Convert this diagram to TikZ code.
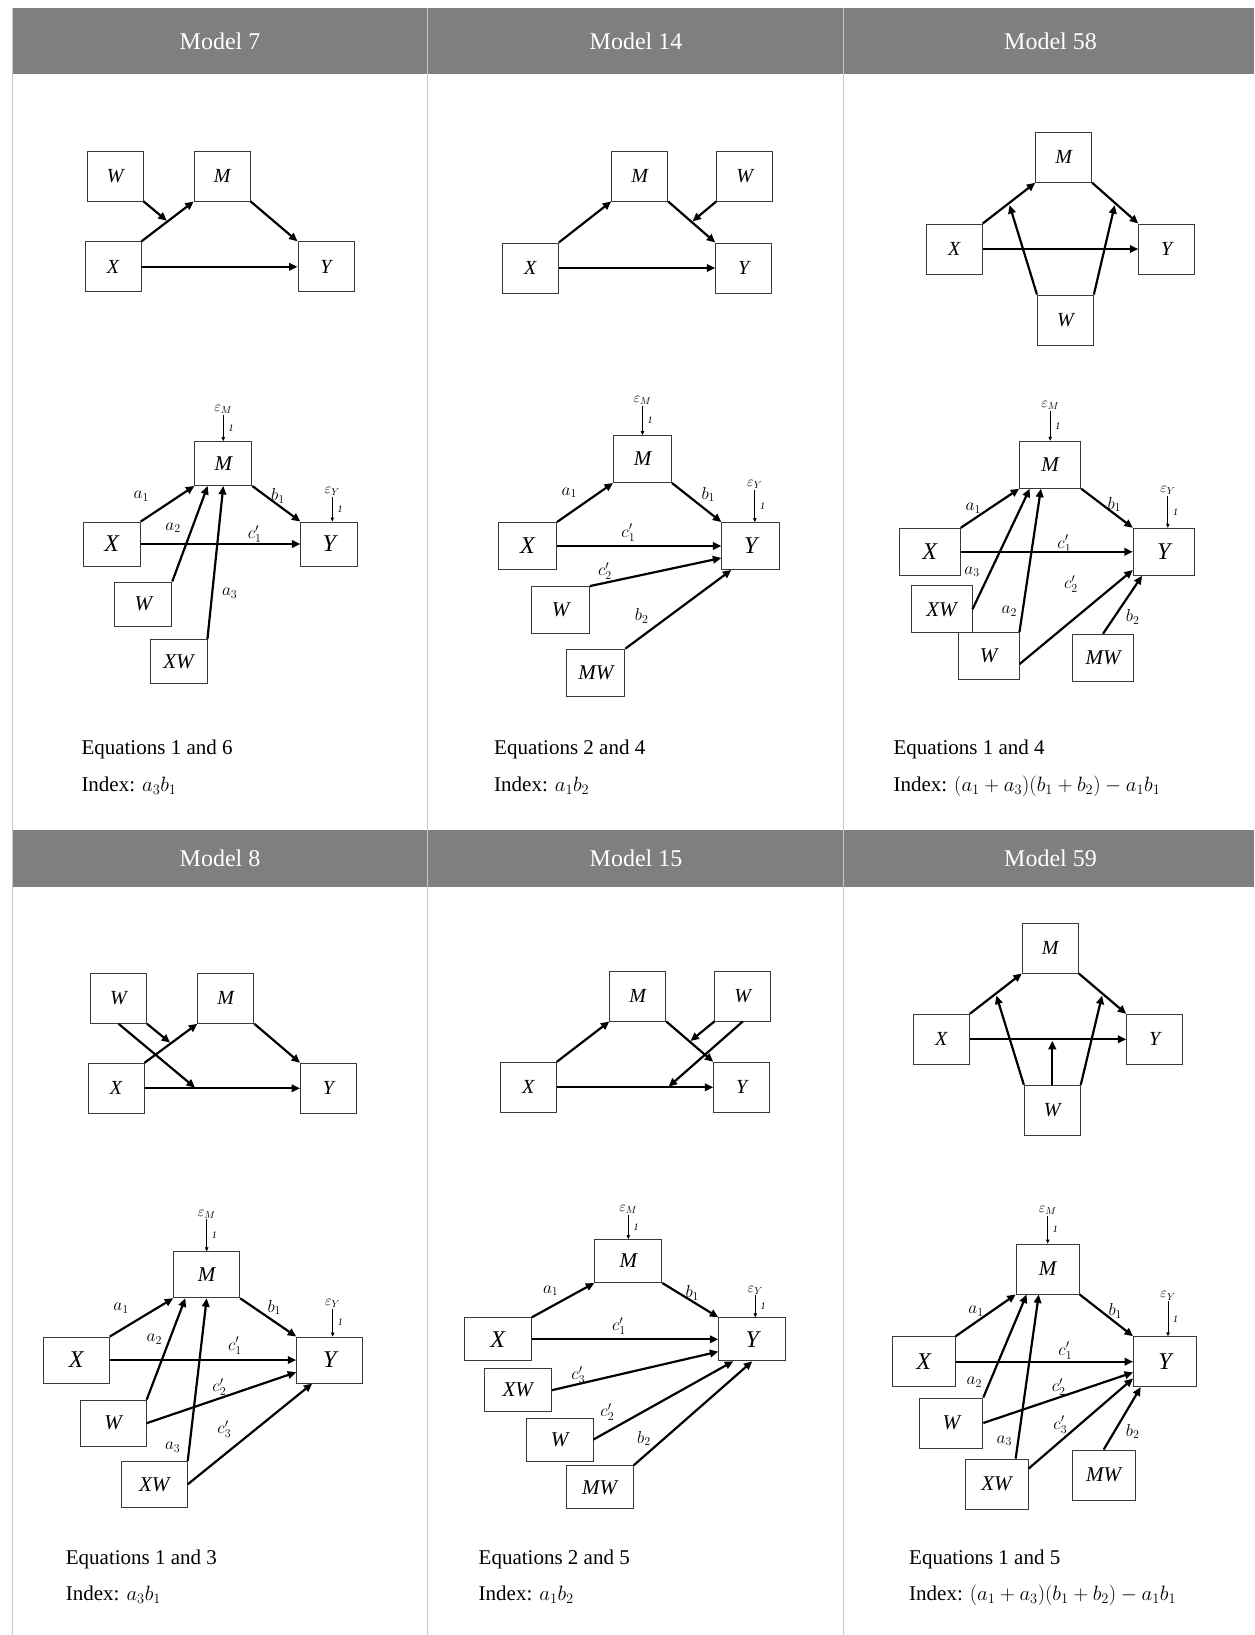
\documentclass[tikz,border=0pt]{standalone}
\usepackage{fontspec}
\setmainfont{Liberation Serif}
\usetikzlibrary{arrows.meta}
\usetikzlibrary{calc}
\definecolor{mdgray}{HTML}{7F7F7F}
\definecolor{mdrule}{HTML}{C8C8C8}
\definecolor{mdink}{HTML}{3A3A3A}
\tikzset{
  mdcbox/.style={
    draw=mdink, line width=0.9pt, minimum width=56pt, minimum height=50pt,
    inner sep=0pt, font=\fontsize{20}{24}\selectfont\itshape},
  mdsbox/.style={
    draw=mdink, line width=0.9pt, inner sep=0pt,
    font=\fontsize{21}{25}\selectfont\itshape},
  mdbig/.style={font=\fontsize{24}{28}\selectfont\itshape},
  mdarrow/.style={-{Triangle[length=8.5pt, width=7.5pt]}, line width=2.2pt},
  mderr/.style={-{Triangle[length=4pt, width=3.5pt]}, line width=0.7pt},
  mdcoef/.style={font=\fontsize{17}{20}\selectfont, inner sep=0pt},
  mdeps/.style={font=\fontsize{14}{16}\selectfont, inner sep=1pt},
  mdone/.style={font=\fontsize{10}{12}\selectfont\itshape, inner sep=0pt},
  mdtitle/.style={font=\fontsize{24}{28}\selectfont, text=white},
  mdnote/.style={anchor=west, inner sep=0pt, font=\fontsize{21}{25}\selectfont},
}
% error term: name, target, length, index
\newcommand{\errterm}[4]{%
  \coordinate (#1) at ($(#2)+(0,-#3)$);
  \draw[mderr] (#1) -- (#2);
  \node[mdeps, anchor=south] (#1t) at (#1) {$\varepsilon_{#4}$};
  \node[mdone, anchor=west] (#1o) at ($(#1)!0.5!(#2)+(5,0)$) {1};
}

\begin{document}
\begin{tikzpicture}[x=1pt, y=-1pt]
\useasboundingbox (0,0) rectangle (1254,1635);

% Frame and headers.
\fill[mdgray] (12.5,8.3) rectangle (1254,74);
\fill[mdgray] (12.5,830) rectangle (1254,887);
\foreach \cx in {12.5, 427, 843} {
  \draw[mdrule, line width=0.8pt] (\cx,8.3) -- (\cx,1635);
}
\foreach \cx/\txt [count=\i] in {220/7, 636/14, 1050.5/58} {
  \node[mdtitle] (top\i) at (\cx,41.5) {Model \txt};
}
\foreach \cx/\txt [count=\i] in {220/8, 636/15, 1050.5/59} {
  \node[mdtitle] (bot\i) at (\cx,858.5) {Model \txt};
}

% ------------------------------------------------------------ Model 7
\node[mdcbox] (w7) at (115.2,176) {W};
\node[mdcbox] (m7) at (222.2,176) {M};
\node[mdcbox] (x7) at (113,266.8) {X};
\node[mdcbox] (y7) at (326,266.8) {Y};
\coordinate (xm7) at ($(x7.north east)!0.5!(m7.south west)$);
\draw[mdarrow] (x7.north east) -- (m7.south west);
\draw[mdarrow] (m7.south east) -- (y7.north west);
\draw[mdarrow] (x7.east) -- (y7.west);
\draw[mdarrow, shorten >=1pt] (w7.south east) -- (xm7);

\begin{scope}[mdsbox/.append style={minimum width=57pt, minimum height=44pt}]
\node[mdsbox] (m7s) at (223.3,463.5) {M};
\node[mdsbox, mdbig] (x7s) at (111.8,544) {X};
\node[mdsbox, mdbig] (y7s) at (329.3,544) {Y};
\node[mdsbox] (w7s) at (143.3,604) {W};
\node[mdsbox] (xw7s) at (178.5,661.3) {XW};
\end{scope}
\coordinate (m7s2) at ($(m7s.south west)!0.23!(m7s.south east)$);
\coordinate (y7s0) at ($(y7s.north)+(3,0)$);
\draw[mdarrow] (x7s.north east) -- (m7s.south west);
\draw[mdarrow] (w7s.north east) -- (m7s2);
\draw[mdarrow] (xw7s.north east) -- (m7s.south);
\draw[mdarrow] (m7s.south east) -- (y7s.north west);
\draw[mdarrow] (x7s.east) -- (y7s.west);
\errterm{em7}{m7s.north}{26}{M}
\errterm{ey7}{y7s0}{25}{Y}
\node[mdcoef] (a1s7) at (141.3,496) {$a_1$};
\node[mdcoef] (a2s7) at (173,527.7) {$a_2$};
\node[mdcoef] (a3s7) at (229.7,593.3) {$a_3$};
\node[mdcoef] (b1s7) at (278,496) {$b_1$};
\node[mdcoef] (c1s7) at (254.7,534.3) {$c_1'$};

\node[mdnote] (eq7) at (81.3,749.5) {Equations 1 and 6};
\node[mdnote] (ix7) at (81.3,786) {Index: $a_3b_1$};

% ----------------------------------------------------------- Model 14
\node[mdcbox] (m14) at (639.7,176) {M};
\node[mdcbox] (w14) at (744.7,176) {W};
\node[mdcbox] (x14) at (530.3,268) {X};
\node[mdcbox] (y14) at (743.7,268) {Y};
\coordinate (my14) at ($(m14.south east)!0.5!(y14.north west)$);
\draw[mdarrow] (x14.north east) -- (m14.south west);
\draw[mdarrow] (m14.south east) -- (y14.north west);
\draw[mdarrow] (x14.east) -- (y14.west);
\draw[mdarrow, shorten >=1pt] (w14.south west) -- (my14);

\begin{scope}[mdsbox/.append style={minimum width=58pt, minimum height=47pt}]
\node[mdsbox] (m14s) at (642.5,459) {M};
\node[mdsbox, mdbig] (x14s) at (527.5,546) {X};
\node[mdsbox, mdbig] (y14s) at (750.8,546) {Y};
\node[mdsbox] (w14s) at (560.5,610) {W};
\node[mdsbox] (mw14s) at (595.8,672.7) {MW};
\end{scope}
\coordinate (y14s2) at ($(y14s.north west)!0.75!(y14s.south west)$);
\coordinate (y14s3) at ($(y14s.south west)!0.17!(y14s.south east)$);
\coordinate (y14s0) at ($(y14s.north)+(4,0)$);
\draw[mdarrow] (x14s.north east) -- (m14s.south west);
\draw[mdarrow] (m14s.south east) -- (y14s.north west);
\draw[mdarrow] (x14s.east) -- (y14s.west);
\draw[mdarrow] (w14s.north east) -- (y14s2);
\draw[mdarrow] (mw14s.north east) -- (y14s3);
\errterm{em14}{m14s.north}{29}{M}
\errterm{ey14}{y14s0}{32}{Y}
\node[mdcoef] (a1s14) at (569.3,492.7) {$a_1$};
\node[mdcoef] (b1s14) at (708.3,494.3) {$b_1$};
\node[mdcoef] (c1s14) at (628.3,532.7) {$c_1'$};
\node[mdcoef] (c2s14) at (605,571) {$c_2'$};
\node[mdcoef] (b2s14) at (641.7,616) {$b_2$};

\node[mdnote] (eq14) at (494,749.5) {Equations 2 and 4};
\node[mdnote] (ix14) at (494,786) {Index: $a_1b_2$};

% ----------------------------------------------------------- Model 58
\node[mdcbox] (m58) at (1063.7,157.3) {M};
\node[mdcbox] (x58) at (954.2,249) {X};
\node[mdcbox] (y58) at (1166.7,249) {Y};
\node[mdcbox] (w58) at (1065.4,320) {W};
\coordinate (xm58) at ($(x58.north east)!0.5!(m58.south west)$);
\coordinate (my58) at ($(m58.south east)!0.5!(y58.north west)$);
\draw[mdarrow] (x58.north east) -- (m58.south west);
\draw[mdarrow] (m58.south east) -- (y58.north west);
\draw[mdarrow] (x58.east) -- (y58.west);
\draw[mdarrow, shorten >=2pt] (w58.north west) -- (xm58);
\draw[mdarrow, shorten >=2pt] (w58.north east) -- (my58);

\begin{scope}[mdsbox/.append style={minimum width=61pt, minimum height=47pt}]
\node[mdsbox] (m58s) at (1050.2,464.7) {M};
\node[mdsbox, mdbig] (x58s) at (929.7,551.8) {X};
\node[mdsbox, mdbig] (y58s) at (1163.8,551.8) {Y};
\node[mdsbox] (xw58s) at (941.5,609.3) {XW};
\node[mdsbox] (w58s) at (988.5,656) {W};
\node[mdsbox] (mw58s) at (1103,657.7) {MW};
\end{scope}
\coordinate (m58s3) at ($(m58s.south west)!0.17!(m58s.south east)$);
\coordinate (m58s2) at ($(m58s.south west)!0.35!(m58s.south east)$);
\coordinate (w58sr) at ($(w58s.north east)!0.67!(w58s.south east)$);
\coordinate (y58s2) at ($(y58s.north west)!0.88!(y58s.south west)$);
\coordinate (y58s3) at ($(y58s.south west)!0.15!(y58s.south east)$);
\coordinate (y58s0) at ($(y58s.north)+(4,0)$);
\draw[mdarrow] (x58s.north east) -- (m58s.south west);
\draw[mdarrow] (xw58s.east) -- (m58s3);
\draw[mdarrow] (w58s.north east) -- (m58s2);
\draw[mdarrow] (m58s.south east) -- (y58s.north west);
\draw[mdarrow] (x58s.east) -- (y58s.west);
\draw[mdarrow] (w58sr) -- (y58s2);
\draw[mdarrow] (mw58s.north) -- (y58s3);
\errterm{em58}{m58s.north}{30}{M}
\errterm{ey58}{y58s0}{32}{Y}
\node[mdcoef] (a1s58) at (973.3,508.3) {$a_1$};
\node[mdcoef] (a3s58) at (972,571.7) {$a_3$};
\node[mdcoef] (a2s58) at (1009.3,611) {$a_2$};
\node[mdcoef] (b1s58) at (1114.3,504.3) {$b_1$};
\node[mdcoef] (c1s58) at (1064.3,543.7) {$c_1'$};
\node[mdcoef] (c2s58) at (1071,584.3) {$c_2'$};
\node[mdcoef] (b2s58) at (1132.7,617) {$b_2$};

\node[mdnote] (eq58) at (893.3,749.5) {Equations 1 and 4};
\node[mdnote] (ix58) at (893.3,786) {Index: $(a_1+a_3)(b_1+b_2)-a_1b_1$};

% ------------------------------------------------------------ Model 8
\node[mdcbox] (w8) at (118.5,998.3) {W};
\node[mdcbox] (m8) at (225.8,998.3) {M};
\node[mdcbox] (x8) at (116,1088.3) {X};
\node[mdcbox] (y8) at (328.5,1088.3) {Y};
\coordinate (xm8) at ($(x8.north east)!0.5!(m8.south west)$);
\coordinate (xy8) at ($(x8.east)!0.33!(y8.west)$);
\draw[mdarrow] (x8.north east) -- (m8.south west);
\draw[mdarrow] (m8.south east) -- (y8.north west);
\draw[mdarrow] (x8.east) -- (y8.west);
\draw[mdarrow, shorten >=1pt] (w8.south east) -- (xm8);
\draw[mdarrow, shorten >=1pt] (w8.south) -- (xy8);

\begin{scope}[mdsbox/.append style={minimum width=66pt, minimum height=46pt}]
\node[mdsbox] (m8s) at (206.7,1274.8) {M};
\node[mdsbox, mdbig] (x8s) at (76.3,1360) {X};
\node[mdsbox, mdbig] (y8s) at (329.7,1360) {Y};
\node[mdsbox] (w8s) at (113.2,1423.2) {W};
\node[mdsbox] (xw8s) at (154.3,1484.3) {XW};
\end{scope}
\coordinate (m8s2) at ($(m8s.south west)!0.18!(m8s.south east)$);
\coordinate (y8s2) at ($(y8s.north west)!0.76!(y8s.south west)$);
\coordinate (y8s3) at ($(y8s.south west)!0.24!(y8s.south east)$);
\coordinate (y8s0) at ($(y8s.north)+(3,0)$);
\draw[mdarrow] (x8s.north east) -- (m8s.south west);
\draw[mdarrow] (w8s.north east) -- (m8s2);
\draw[mdarrow] (xw8s.north east) -- (m8s.south);
\draw[mdarrow] (m8s.south east) -- (y8s.north west);
\draw[mdarrow] (x8s.east) -- (y8s.west);
\draw[mdarrow] (w8s.east) -- (y8s2);
\draw[mdarrow] (xw8s.east) -- (y8s3);
\errterm{em8}{m8s.north}{32}{M}
\errterm{ey8}{y8s0}{28}{Y}
\node[mdcoef] (a1s8) at (121,1308.3) {$a_1$};
\node[mdcoef] (a2s8) at (154.3,1339) {$a_2$};
\node[mdcoef] (a3s8) at (172.7,1447.3) {$a_3$};
\node[mdcoef] (b1s8) at (274.3,1307.3) {$b_1$};
\node[mdcoef] (c1s8) at (235,1345.7) {$c_1'$};
\node[mdcoef] (c2s8) at (219.3,1387.3) {$c_2'$};
\node[mdcoef] (c3s8) at (224.3,1429) {$c_3'$};

\node[mdnote] (eq8) at (65.7,1559.4) {Equations 1 and 3};
\node[mdnote] (ix8) at (65.7,1595) {Index: $a_3b_1$};

% ----------------------------------------------------------- Model 15
\node[mdcbox] (m15) at (637.8,996) {M};
\node[mdcbox] (w15) at (742.8,996) {W};
\node[mdcbox] (x15) at (528.3,1087.3) {X};
\node[mdcbox] (y15) at (741.7,1087.3) {Y};
\coordinate (my15) at ($(m15.south east)!0.5!(y15.north west)$);
\coordinate (xy15) at ($(x15.east)!0.71!(y15.west)$);
\draw[mdarrow] (x15.north east) -- (m15.south west);
\draw[mdarrow] (m15.south east) -- (y15.north west);
\draw[mdarrow] (x15.east) -- (y15.west);
\draw[mdarrow, shorten >=1pt] (w15.south west) -- (my15);
\draw[mdarrow, shorten >=1pt] (w15.south) -- (xy15);

\begin{scope}[mdsbox/.append style={minimum width=67pt, minimum height=43pt}]
\node[mdsbox] (m15s) at (628.3,1261) {M};
\node[mdsbox, mdbig] (x15s) at (497.8,1339.3) {X};
\node[mdsbox, mdbig] (y15s) at (752.3,1339.3) {Y};
\node[mdsbox] (xw15s) at (517.8,1390.2) {XW};
\node[mdsbox] (w15s) at (559.5,1439.5) {W};
\node[mdsbox] (mw15s) at (599.7,1487.3) {MW};
\end{scope}
\coordinate (y15s2) at ($(y15s.north west)!0.78!(y15s.south west)$);
\coordinate (y15s3) at ($(y15s.south west)!0.22!(y15s.south east)$);
\coordinate (y15s0) at ($(y15s.north)+(3,0)$);
\draw[mdarrow] (x15s.north east) -- (m15s.south west);
\draw[mdarrow] (m15s.south east) -- (y15s.north west);
\draw[mdarrow] (x15s.east) -- (y15s.west);
\draw[mdarrow] (xw15s.east) -- (y15s2);
\draw[mdarrow] (w15s.east) -- (y15s3);
\draw[mdarrow] (mw15s.north east) -- (y15s.south);
\errterm{em15}{m15s.north}{24}{M}
\errterm{ey15}{y15s0}{22}{Y}
\node[mdcoef] (a1s15) at (550.7,1290.7) {$a_1$};
\node[mdcoef] (b1s15) at (692.3,1293) {$b_1$};
\node[mdcoef] (c1s15) at (619,1326.3) {$c_1'$};
\node[mdcoef] (c3s15) at (578.3,1375) {$c_3'$};
\node[mdcoef] (c2s15) at (607.3,1412.3) {$c_2'$};
\node[mdcoef] (b2s15) at (644,1438.3) {$b_2$};

\node[mdnote] (eq15) at (478.5,1559.4) {Equations 2 and 5};
\node[mdnote] (ix15) at (478.5,1595) {Index: $a_1b_2$};

% ----------------------------------------------------------- Model 59
\node[mdcbox] (m59) at (1050.3,948) {M};
\node[mdcbox] (x59) at (941.3,1039.3) {X};
\node[mdcbox] (y59) at (1154.7,1039.3) {Y};
\node[mdcbox] (w59) at (1052.3,1110.3) {W};
\coordinate (xm59) at ($(x59.north east)!0.5!(m59.south west)$);
\coordinate (my59) at ($(m59.south east)!0.5!(y59.north west)$);
\coordinate (xy59) at (w59.north |- x59.east);
\draw[mdarrow] (x59.north east) -- (m59.south west);
\draw[mdarrow] (m59.south east) -- (y59.north west);
\draw[mdarrow] (x59.east) -- (y59.west);
\draw[mdarrow, shorten >=2pt] (w59.north west) -- (xm59);
\draw[mdarrow, shorten >=2pt] (w59.north east) -- (my59);
\draw[mdarrow, shorten >=1.5pt] (w59.north) -- (xy59);

\begin{scope}[mdsbox/.append style={minimum width=63pt, minimum height=50pt}]
\node[mdsbox] (m59s) at (1047.7,1269) {M};
\node[mdsbox, mdbig] (x59s) at (923.7,1361.7) {X};
\node[mdsbox, mdbig] (y59s) at (1165,1361.7) {Y};
\node[mdsbox] (w59s) at (951.3,1423) {W};
\node[mdsbox] (xw59s) at (996.5,1484) {XW};
\node[mdsbox] (mw59s) at (1103.7,1475) {MW};
\end{scope}
\coordinate (m59s2) at ($(m59s.south west)!0.17!(m59s.south east)$);
\coordinate (m59s3) at ($(m59s.south west)!0.36!(m59s.south east)$);
\coordinate (xw59st) at ($(xw59s.north west)!0.8!(xw59s.north east)$);
\coordinate (xw59sr) at ($(xw59s.north east)!0.2!(xw59s.south east)$);
\coordinate (y59s2) at ($(y59s.north west)!0.71!(y59s.south west)$);
\coordinate (y59s3) at ($(y59s.north west)!0.83!(y59s.south west)$);
\coordinate (y59s4) at ($(y59s.south west)!0.12!(y59s.south east)$);
\coordinate (y59s0) at ($(y59s.north)+(3,0)$);
\draw[mdarrow] (x59s.north east) -- (m59s.south west);
\draw[mdarrow] (w59s.north east) -- (m59s2);
\draw[mdarrow] (xw59st) -- (m59s3);
\draw[mdarrow] (m59s.south east) -- (y59s.north west);
\draw[mdarrow] (x59s.east) -- (y59s.west);
\draw[mdarrow] (w59s.east) -- (y59s2);
\draw[mdarrow] (xw59sr) -- (y59s3);
\draw[mdarrow] (mw59s.north) -- (y59s4);
\errterm{em59}{m59s.north}{28}{M}
\errterm{ey59}{y59s0}{35}{Y}
\node[mdcoef] (a1s59) at (976,1311.3) {$a_1$};
\node[mdcoef] (a2s59) at (974.3,1382.3) {$a_2$};
\node[mdcoef] (a3s59) at (1004.3,1440.7) {$a_3$};
\node[mdcoef] (b1s59) at (1115.3,1310.7) {$b_1$};
\node[mdcoef] (c1s59) at (1065.3,1350.7) {$c_1'$};
\node[mdcoef] (c2s59) at (1058.7,1387.3) {$c_2'$};
\node[mdcoef] (c3s59) at (1060.3,1424.7) {$c_3'$};
\node[mdcoef] (b2s59) at (1132.7,1431.3) {$b_2$};

\node[mdnote] (eq59) at (909,1559.4) {Equations 1 and 5};
\node[mdnote] (ix59) at (909,1595) {Index: $(a_1+a_3)(b_1+b_2)-a_1b_1$};

\end{tikzpicture}
\end{document}
